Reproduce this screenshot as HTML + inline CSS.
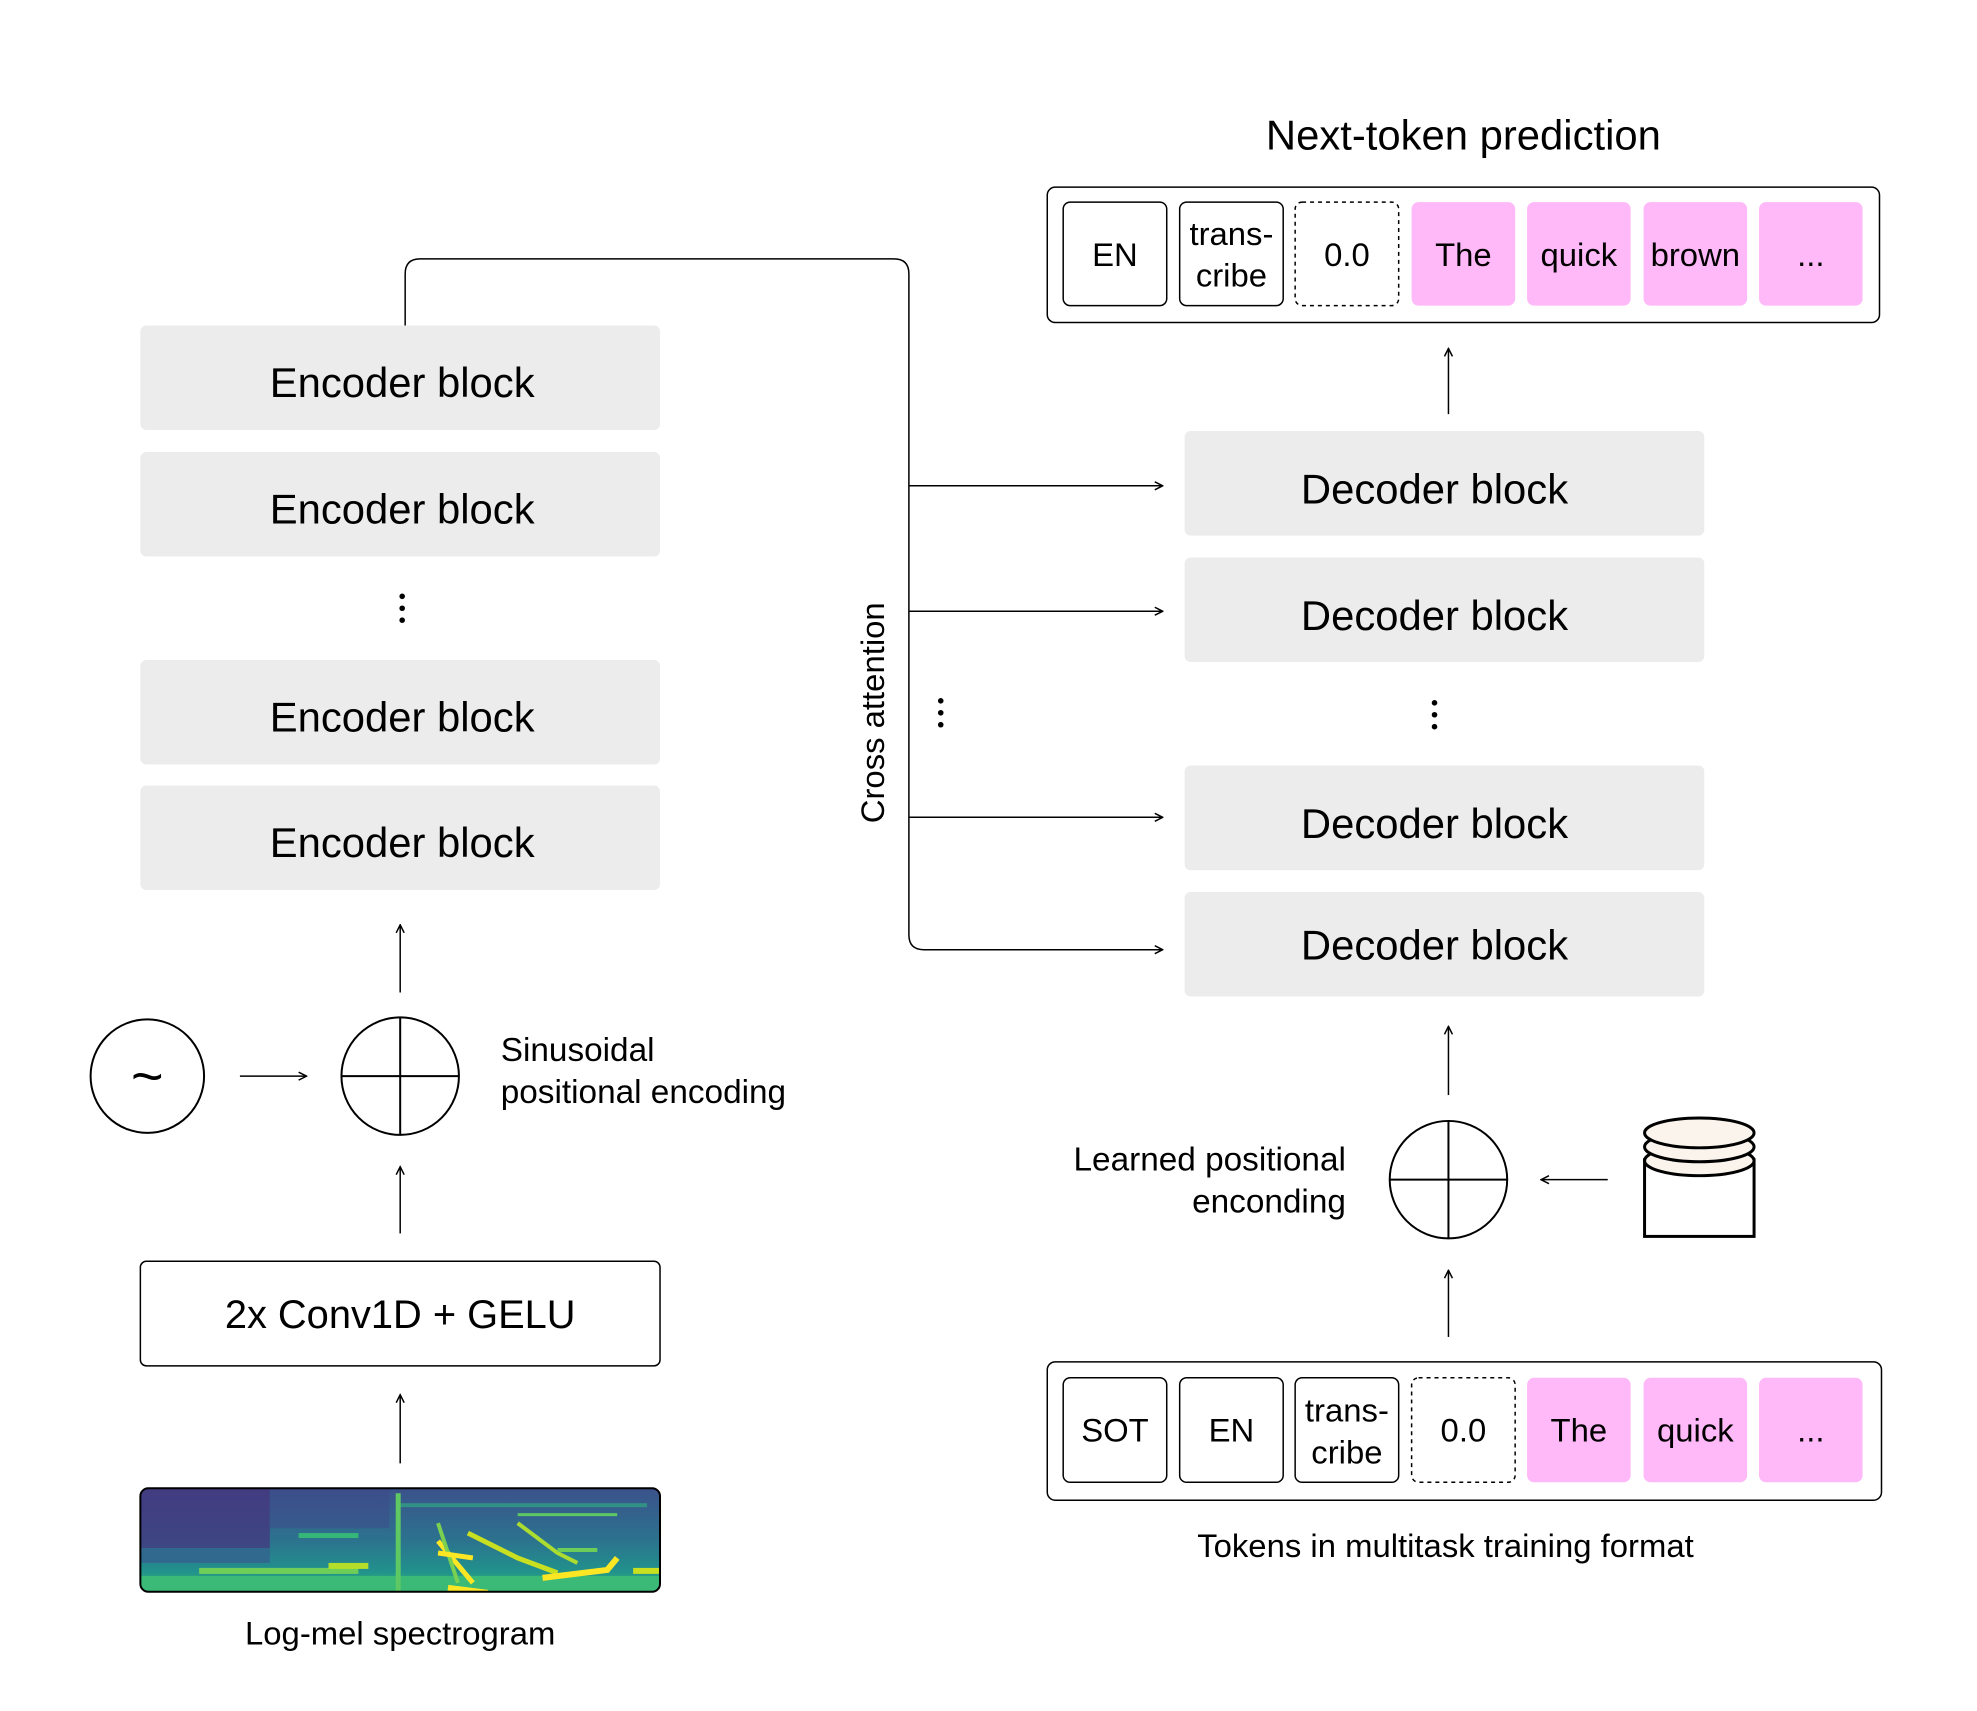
<!DOCTYPE html>
<html><head><meta charset="utf-8"><style>
html,body{margin:0;padding:0;background:#fff}
svg{display:block}
text{font-family:"Liberation Sans",sans-serif;fill:#000}
</style></head><body>
<svg width="1977" height="1711" viewBox="0 0 1977 1711" xmlns="http://www.w3.org/2000/svg">
<defs>
<marker id="ah" viewBox="0 0 10 10" refX="9" refY="5" markerWidth="10" markerHeight="10" orient="auto" markerUnits="userSpaceOnUse">
<path d="M1,1 L9,5 L1,9" fill="none" stroke="#000" stroke-width="1.5"/>
</marker>
<linearGradient id="sg" x1="0" y1="0" x2="0" y2="1">
<stop offset="0" stop-color="#3b528b"/><stop offset="0.5" stop-color="#2c728e"/><stop offset="0.8" stop-color="#21918c"/><stop offset="1" stop-color="#35b779"/>
</linearGradient>
<clipPath id="sc"><rect x="141" y="1495" width="522" height="104" rx="8"/></clipPath>
</defs>
<g transform="scale(0.9955)">
<text x="1470" y="150" font-size="42" text-anchor="middle">Next-token prediction</text>

<rect x="1052" y="188" width="836" height="136" rx="8" fill="#fff" stroke="#000" stroke-width="1.5"/>
<g font-size="33" text-anchor="middle">
<rect x="1068" y="203" width="104" height="104" rx="7" fill="#fff" stroke="#000" stroke-width="1.5"/>
<text x="1120" y="267">EN</text>
<rect x="1185" y="203" width="104" height="104" rx="7" fill="#fff" stroke="#000" stroke-width="1.5"/>
<text x="1237" y="246">trans-</text><text x="1237" y="288">cribe</text>
<rect x="1301" y="203" width="104" height="104" rx="7" fill="#fff" stroke="#000" stroke-width="1.5" stroke-dasharray="4 4"/>
<text x="1353" y="267">0.0</text>
<rect x="1418" y="203" width="104" height="104" rx="7" fill="#ffb8f8"/>
<text x="1470" y="267">The</text>
<rect x="1534" y="203" width="104" height="104" rx="7" fill="#ffb8f8"/>
<text x="1586" y="267">quick</text>
<rect x="1651" y="203" width="104" height="104" rx="7" fill="#ffb8f8"/>
<text x="1703" y="267">brown</text>
<rect x="1767" y="203" width="104" height="104" rx="7" fill="#ffb8f8"/>
<text x="1819" y="267">...</text>
</g>

<line x1="1455" y1="416" x2="1455" y2="350" stroke="#000" stroke-width="1.5" marker-end="url(#ah)"/>

<g font-size="42" text-anchor="middle">
<rect x="1190" y="433" width="522" height="105" rx="6" fill="#ececec"/>
<text x="1441" y="506">Decoder block</text>
<rect x="1190" y="560" width="522" height="105" rx="6" fill="#ececec"/>
<text x="1441" y="633">Decoder block</text>
<rect x="1190" y="769" width="522" height="105" rx="6" fill="#ececec"/>
<text x="1441" y="842">Decoder block</text>
<rect x="1190" y="896" width="522" height="105" rx="6" fill="#ececec"/>
<text x="1441" y="964">Decoder block</text>
</g>
<g fill="#000">
<circle cx="1441" cy="706" r="2.8"/><circle cx="1441" cy="718" r="2.8"/><circle cx="1441" cy="730" r="2.8"/>
<circle cx="945" cy="704" r="2.8"/><circle cx="945" cy="716" r="2.8"/><circle cx="945" cy="728" r="2.8"/>
<circle cx="404" cy="599" r="2.8"/><circle cx="404" cy="611" r="2.8"/><circle cx="404" cy="623" r="2.8"/>
</g>

<g font-size="42" text-anchor="middle">
<rect x="141" y="327" width="522" height="105" rx="6" fill="#ececec"/>
<text x="404" y="399">Encoder block</text>
<rect x="141" y="454" width="522" height="105" rx="6" fill="#ececec"/>
<text x="404" y="526">Encoder block</text>
<rect x="141" y="663" width="522" height="105" rx="6" fill="#ececec"/>
<text x="404" y="735">Encoder block</text>
<rect x="141" y="789" width="522" height="105" rx="6" fill="#ececec"/>
<text x="404" y="861">Encoder block</text>
</g>

<path d="M407,327 V275 Q407,260 422,260 H898 Q913,260 913,275 V939 Q913,954 928,954 H1168" fill="none" stroke="#000" stroke-width="1.5" marker-end="url(#ah)"/>
<line x1="913" y1="488" x2="1168" y2="488" stroke="#000" stroke-width="1.5" marker-end="url(#ah)"/>
<line x1="913" y1="614" x2="1168" y2="614" stroke="#000" stroke-width="1.5" marker-end="url(#ah)"/>
<line x1="913" y1="821" x2="1168" y2="821" stroke="#000" stroke-width="1.5" marker-end="url(#ah)"/>
<text x="0" y="0" font-size="33" text-anchor="middle" transform="translate(888,716) rotate(-90)">Cross attention</text>

<circle cx="148" cy="1081" r="57" fill="#fff" stroke="#000" stroke-width="2"/>
<text x="148" y="1100" font-size="56" text-anchor="middle">~</text>
<line x1="241" y1="1081" x2="308" y2="1081" stroke="#000" stroke-width="1.5" marker-end="url(#ah)"/>
<circle cx="402" cy="1081" r="59" fill="#fff" stroke="#000" stroke-width="2"/>
<line x1="343" y1="1081" x2="461" y2="1081" stroke="#000" stroke-width="2"/>
<line x1="402" y1="1022" x2="402" y2="1140" stroke="#000" stroke-width="2"/>
<line x1="402" y1="997" x2="402" y2="929" stroke="#000" stroke-width="1.5" marker-end="url(#ah)"/>
<text x="503" y="1066" font-size="33.5">Sinusoidal</text>
<text x="503" y="1108" font-size="33.5">positional encoding</text>
<line x1="402" y1="1239" x2="402" y2="1172" stroke="#000" stroke-width="1.5" marker-end="url(#ah)"/>

<rect x="141" y="1267" width="522" height="105" rx="6" fill="#fff" stroke="#000" stroke-width="1.5"/>
<text x="402" y="1334" font-size="40" text-anchor="middle">2x Conv1D + GELU</text>
<line x1="402" y1="1470" x2="402" y2="1401" stroke="#000" stroke-width="1.5" marker-end="url(#ah)"/>

<g clip-path="url(#sc)">
<rect x="141" y="1495" width="522" height="104" fill="url(#sg)"/>
<rect x="141" y="1495" width="130" height="60" fill="#46327e" opacity="0.7"/>
<rect x="141" y="1555" width="130" height="15" fill="#31688e"/>
<rect x="271" y="1495" width="120" height="40" fill="#3e4a89" opacity="0.5"/>
<rect x="300" y="1540" width="60" height="5" fill="#35b779"/>
<rect x="200" y="1575" width="160" height="6" fill="#6ece58"/>
<rect x="330" y="1570" width="40" height="6" fill="#b5de2b"/>
<rect x="141" y="1583" width="522" height="16" fill="#3aba76"/>
<rect x="400" y="1510" width="250" height="4" fill="#2fb47c" opacity="0.6"/>
<path d="M440,1548 L475,1590" stroke="#fde725" stroke-width="5" fill="none"/>
<path d="M450,1595 L490,1600" stroke="#fde725" stroke-width="6"/>
<path d="M440,1530 L460,1590" stroke="#7ad151" stroke-width="4" fill="none"/>
<path d="M400,1500 L400,1599" stroke="#5ec962" stroke-width="5"/>
<path d="M470,1540 L520,1565 L560,1580" stroke="#c8e020" stroke-width="5" fill="none"/>
<path d="M440,1560 L475,1565" stroke="#fde725" stroke-width="5"/>
<path d="M545,1585 L610,1577 L620,1565" stroke="#fde725" stroke-width="6" fill="none"/>
<path d="M520,1530 L560,1560 L580,1570" stroke="#addc30" stroke-width="4" fill="none"/>
<rect x="560" y="1555" width="40" height="4" fill="#6ece58"/>
<rect x="636" y="1575" width="27" height="6" fill="#c8e020"/>
<rect x="520" y="1520" width="100" height="3" fill="#5ec962"/>
</g>
<rect x="141" y="1495" width="522" height="104" rx="8" fill="none" stroke="#000" stroke-width="2"/>
<text x="402" y="1652" font-size="33" text-anchor="middle">Log-mel spectrogram</text>

<line x1="1455" y1="1100" x2="1455" y2="1031" stroke="#000" stroke-width="1.5" marker-end="url(#ah)"/>
<circle cx="1455" cy="1185" r="59" fill="#fff" stroke="#000" stroke-width="2"/>
<line x1="1396" y1="1185" x2="1514" y2="1185" stroke="#000" stroke-width="2"/>
<line x1="1455" y1="1126" x2="1455" y2="1244" stroke="#000" stroke-width="2"/>
<line x1="1615" y1="1185" x2="1548" y2="1185" stroke="#000" stroke-width="1.5" marker-end="url(#ah)"/>
<text x="1352" y="1176" font-size="33.5" text-anchor="end">Learned positional</text>
<text x="1352" y="1218" font-size="33.5" text-anchor="end">enconding</text>
<rect x="1652" y="1165" width="110" height="77" fill="#fff" stroke="#000" stroke-width="3"/>
<ellipse cx="1707" cy="1166" rx="55" ry="15" fill="#faf4ed" stroke="#000" stroke-width="3"/>
<ellipse cx="1707" cy="1152" rx="55" ry="15" fill="#faf4ed" stroke="#000" stroke-width="3"/>
<ellipse cx="1707" cy="1138" rx="55" ry="15" fill="#faf4ed" stroke="#000" stroke-width="3"/>
<line x1="1455" y1="1343" x2="1455" y2="1276" stroke="#000" stroke-width="1.5" marker-end="url(#ah)"/>

<rect x="1052" y="1368" width="838" height="139" rx="8" fill="#fff" stroke="#000" stroke-width="1.5"/>
<g font-size="33" text-anchor="middle">
<rect x="1068" y="1384" width="104" height="105" rx="7" fill="#fff" stroke="#000" stroke-width="1.5"/>
<text x="1120" y="1448">SOT</text>
<rect x="1185" y="1384" width="104" height="105" rx="7" fill="#fff" stroke="#000" stroke-width="1.5"/>
<text x="1237" y="1448">EN</text>
<rect x="1301" y="1384" width="104" height="105" rx="7" fill="#fff" stroke="#000" stroke-width="1.5"/>
<text x="1353" y="1428">trans-</text><text x="1353" y="1470">cribe</text>
<rect x="1418" y="1384" width="104" height="105" rx="7" fill="#fff" stroke="#000" stroke-width="1.5" stroke-dasharray="4 4"/>
<text x="1470" y="1448">0.0</text>
<rect x="1534" y="1384" width="104" height="105" rx="7" fill="#ffb8f8"/>
<text x="1586" y="1448">The</text>
<rect x="1651" y="1384" width="104" height="105" rx="7" fill="#ffb8f8"/>
<text x="1703" y="1448">quick</text>
<rect x="1767" y="1384" width="104" height="105" rx="7" fill="#ffb8f8"/>
<text x="1819" y="1448">...</text>
</g>
<text x="1452" y="1564" font-size="33" text-anchor="middle">Tokens in multitask training format</text>
</g>
</svg>
</body></html>
